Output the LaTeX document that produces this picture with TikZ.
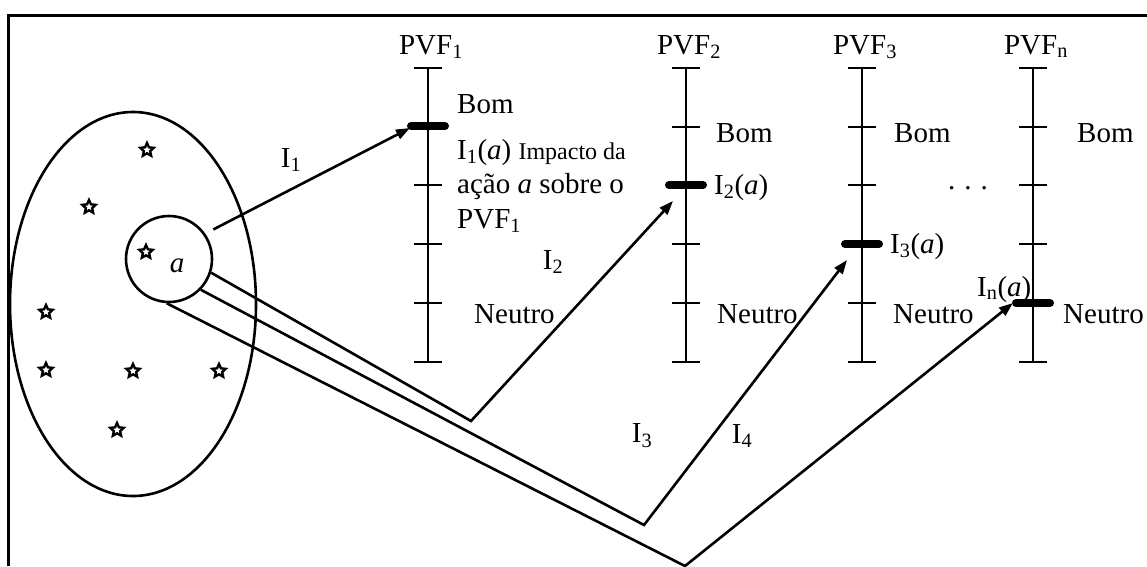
\documentclass[tikz,border=0pt]{standalone}
\usepackage{fontspec}
\setmainfont{Liberation Serif}
\usetikzlibrary{positioning,arrows.meta,shapes.geometric}

\begin{document}
\begin{tikzpicture}[
    x=1pt, y=-1pt,
    frame/.style = {line width=3pt},
    axis/.style  = {line width=2.8pt},
    imp/.style   = {line width=8pt, line cap=round},
    elem/.style  = {star, star points=5, star point ratio=2.1, draw,
                    line width=2.4pt, minimum size=14pt, inner sep=0pt},
    lnk/.style   = {line width=2.6pt},
    arr/.style   = {-{Triangle[length=14pt,width=10pt]}, line width=2.6pt},
    lbl/.style   = {font=\fontsize{29}{33}\selectfont, inner sep=0pt},
]
\useasboundingbox (0,0) rectangle (1147,566);

% --- frame (top and left only) ---
\draw[frame] (8,566) -- (8,15) -- (1147,15);

% --- set of actions ---
\node[draw, ellipse, lnk, minimum width=246pt, minimum height=384pt,
      inner sep=0pt] (set) at (133,304) {};
\foreach \p in {(147,150),(89,207),(146,252),(46,312),(46,370),
                (133,371),(219,371),(117,430)}
    \node[elem] at \p {};
\node[draw, circle, lnk, minimum size=86pt, inner sep=0pt] (act) at (169,259) {};
\node[lbl] (a) at (177,266) {\textit{a}};

% --- the PVF scales ---
\foreach \x/\n in {428/1, 686/2, 862/3, 1033/n} {
    \draw[axis] (\x,68) -- (\x,362);
    \foreach \y in {68,127,185,244,303,362}
        \draw[axis] (\x-14,\y) -- (\x+14,\y);
    \node[lbl, anchor=base] (pvf\n) at (\x+3,54) {PVF\textsubscript{\n}};
}

% --- impact levels ---
\draw[imp] (411,126) -- (445,126);
\draw[imp] (669,185) -- (703,185);
\draw[imp] (845,244) -- (879,244);
\draw[imp] (1016,303) -- (1050,303);

% --- scale texts ---
\node[lbl, anchor=base west] at (457,113) {Bom};
\node[lbl, anchor=base west] at (457,159)
    {I\textsubscript{1}(\textit{a}) {\fontsize{24}{27}\selectfont Impacto da}};
\node[lbl, anchor=base west] at (457,193) {ação \textit{a} sobre o};
\node[lbl, anchor=base west] at (457,228) {PVF\textsubscript{1}};
\node[lbl, anchor=base west] at (474,323) {Neutro};

\node[lbl, anchor=base west] at (716,142) {Bom};
\node[lbl, anchor=base west] at (714,194) {I\textsubscript{2}(\textit{a})};
\node[lbl, anchor=base west] at (717,323) {Neutro};

\node[lbl, anchor=base west] at (894,142) {Bom};
\node[lbl, anchor=base west] at (890,253) {I\textsubscript{3}(\textit{a})};
\node[lbl, anchor=base west] at (893,323) {Neutro};
\node[lbl, anchor=base] at (968,189) {.\hspace{9pt}.\hspace{9pt}.};

\node[lbl, anchor=base west] at (1077,142) {Bom};
\node[lbl, anchor=base west] at (977,296) {I\textsubscript{n}(\textit{a})};
\node[lbl, anchor=base west] at (1063,323) {Neutro};

% --- impact connectors ---
\coordinate (t1) at (410,128);
\coordinate (v2) at (471,421);
\coordinate (t2) at (673,201);
\coordinate (v3) at (644,525);
\coordinate (t3) at (847,260);
\coordinate (v4) at (685,566);
\coordinate (t4) at (1013,303);

\draw[arr, shorten <=9pt] (act.35) -- (t1);
\draw[arr] (act.-18) -- (v2) -- (t2);
\draw[arr] (act.-44) -- (v3) -- (t3);
\draw[arr] (act.-93) -- (v4) -- (t4);

\node[lbl] (i1) at (291,160) {I\textsubscript{1}};
\node[lbl] (i2) at (553,262) {I\textsubscript{2}};
\node[lbl] (i3) at (642,436) {I\textsubscript{3}};
\node[lbl] (i4) at (742,436) {I\textsubscript{4}};

\end{tikzpicture}
\end{document}
